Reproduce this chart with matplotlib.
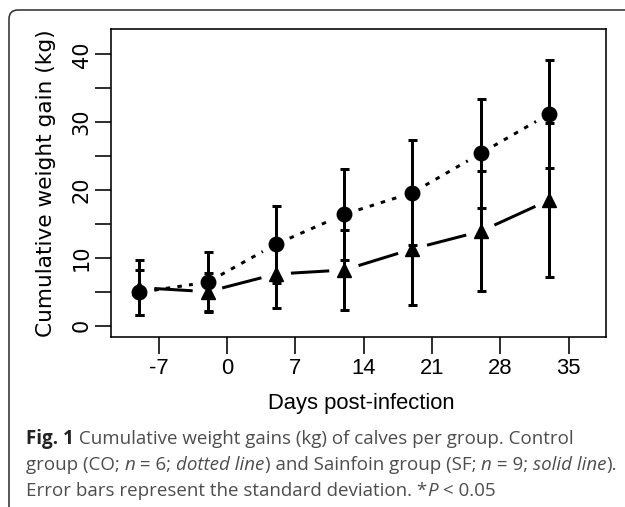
import matplotlib
matplotlib.use("Agg")
import matplotlib.pyplot as plt
import numpy as np
from matplotlib.patches import FancyBboxPatch

# ---------------- data ----------------
days = [-9, -2, 5, 12, 19, 26, 33]
co_mean = [4.9, 6.4, 12.0, 16.4, 19.6, 25.4, 31.2]
co_sd = [3.3, 4.4, 5.7, 6.75, 7.7, 8.0, 7.95]
sf_mean = [5.6, 5.0, 7.6, 8.2, 11.3, 13.9, 18.5]
sf_sd = [4.0, 2.8, 5.05, 5.9, 8.3, 8.85, 11.3]
xticks = [-7, 0, 7, 14, 21, 28, 35]
yticks_major = [0, 10, 20, 30, 40]
yticks_all = [0, 5, 10, 15, 20, 25, 30, 35, 40]

W, H, DPI = 625, 507, 100
fig = plt.figure(figsize=(W / DPI, H / DPI), dpi=DPI)

def px(v):
    return v * 72.0 / DPI  # pixels -> points

# rounded frame around the figure
frame = FancyBboxPatch((9, -30), 660, H - 10 + 30, boxstyle="round,pad=0,rounding_size=9",
                       transform=None, fill=False, edgecolor="#333333", linewidth=px(1.6),
                       clip_on=False)
fig.add_artist(frame)

L, R, T, B = 111.3, 606.4, 29.3, 337.0
ax = fig.add_axes([L / W, 1 - B / H, (R - L) / W, (B - T) / H])
ax.set_xlim(-11.88, 38.88)
ax.set_ylim(-1.68, 43.68)

lw = px(3.0)

def gapped_line(xs, ys, gap_px, **kw):
    tr = ax.transData
    inv = tr.inverted()
    pts = tr.transform(np.column_stack([xs, ys]))
    for i in range(len(pts) - 1):
        p0, p1 = pts[i], pts[i + 1]
        d = p1 - p0
        n = np.hypot(*d)
        if n <= 2 * gap_px:
            continue
        u = d / n
        a = inv.transform(p0 + u * gap_px)
        b = inv.transform(p1 - u * gap_px)
        ax.plot([a[0], b[0]], [a[1], b[1]], color="black", **kw)

# lines (type="b" style: gaps around points)
gapped_line(days, co_mean, 15, linewidth=lw, linestyle=(0, (1.5, 2.4)), dash_capstyle="butt")
gapped_line(days, sf_mean, 15, linewidth=lw, linestyle="-", solid_capstyle="butt")

# error bars
for m, s in ((co_mean, co_sd), (sf_mean, sf_sd)):
    ax.errorbar(days, m, yerr=s, fmt="none", ecolor="black", elinewidth=lw,
                capsize=px(4.5), capthick=lw, zorder=3)

ax.plot(days, co_mean, linestyle="none", marker="o", markersize=px(14.5),
        color="black", zorder=4)
ax.plot(days, sf_mean, linestyle="none", marker="^", markersize=px(14.5),
        color="black", zorder=4)

# axes styling
for sp in ax.spines.values():
    sp.set_linewidth(px(1.6))
ax.set_xticks(xticks)
ax.set_xticklabels([str(v) for v in xticks], fontfamily="Liberation Sans", fontsize=15.8)
ax.set_yticks(yticks_all)
ax.set_yticklabels([str(v) if v in yticks_major else "" for v in yticks_all],
                   fontfamily="DejaVu Sans", fontsize=15.0, rotation=90, va="center")
ax.tick_params(axis="both", direction="out", length=px(16.5), width=px(1.6))
ax.tick_params(axis="x", pad=px(5))
ax.tick_params(axis="y", pad=px(3))

fig.text(46 / W, 1 - 183.4 / H, "Cumulative weight gain (kg)", rotation=90,
         ha="center", va="center", fontfamily="DejaVu Sans", fontsize=15.6)
fig.text(361 / W, 1 - 409 / H, "Days post-infection", ha="center", va="baseline",
         fontfamily="Liberation Sans", fontsize=15.8)

# caption with mixed styles
renderer = fig.canvas.get_renderer()
CAP_FONT = "Open Sans"
CAP_COLOR = "#4d4d4d"
cap_x = 26

line1 = [("Fig. 1", "b"), (" Cumulative weight gains (kg) of calves per group. Control", "")]
line2 = [("group (CO; ", ""), ("n", "i"), (" = 6; ", ""), ("dotted line", "i"),
         (") and Sainfoin group (SF; ", ""), ("n", "i"), (" = 9; ", ""),
         ("solid line", "i"), (").", "")]
line3 = [("Error bars represent the standard deviation. *", ""), ("P", "i"),
         (" < 0.05", "")]

def style_kw(style):
    if style == "b":
        return {"fontweight": "bold"}
    if style == "i":
        return {"fontstyle": "italic"}
    return {}

def adv(s, size, **kw):
    t1 = fig.text(0, 0, "|" + s + "|", fontfamily=CAP_FONT, fontsize=size, **kw)
    t2 = fig.text(0, 0, "||", fontfamily=CAP_FONT, fontsize=size, **kw)
    w = t1.get_window_extent(renderer).width - t2.get_window_extent(renderer).width
    t1.remove(); t2.remove()
    return w

# fit the caption size so that line 2 spans the same width as in the reference
base = 12.0
w2 = sum(adv(s, base, **style_kw(st)) for s, st in line2)
CAP_SIZE = base * (615 - cap_x) / w2

def caption_line(pieces, x0, y_base):
    x = x0
    for s, style in pieces:
        kw = style_kw(style)
        color = "#222222" if style == "b" else CAP_COLOR
        fig.text(x / W, 1 - y_base / H, s, fontfamily=CAP_FONT, fontsize=CAP_SIZE,
                 color=color, va="baseline", ha="left", **kw)
        x += adv(s, CAP_SIZE, **kw)

caption_line(line1, cap_x, 444)
caption_line(line2, cap_x, 470)
caption_line(line3, cap_x, 496)

fig.savefig("out.png", dpi=DPI)
